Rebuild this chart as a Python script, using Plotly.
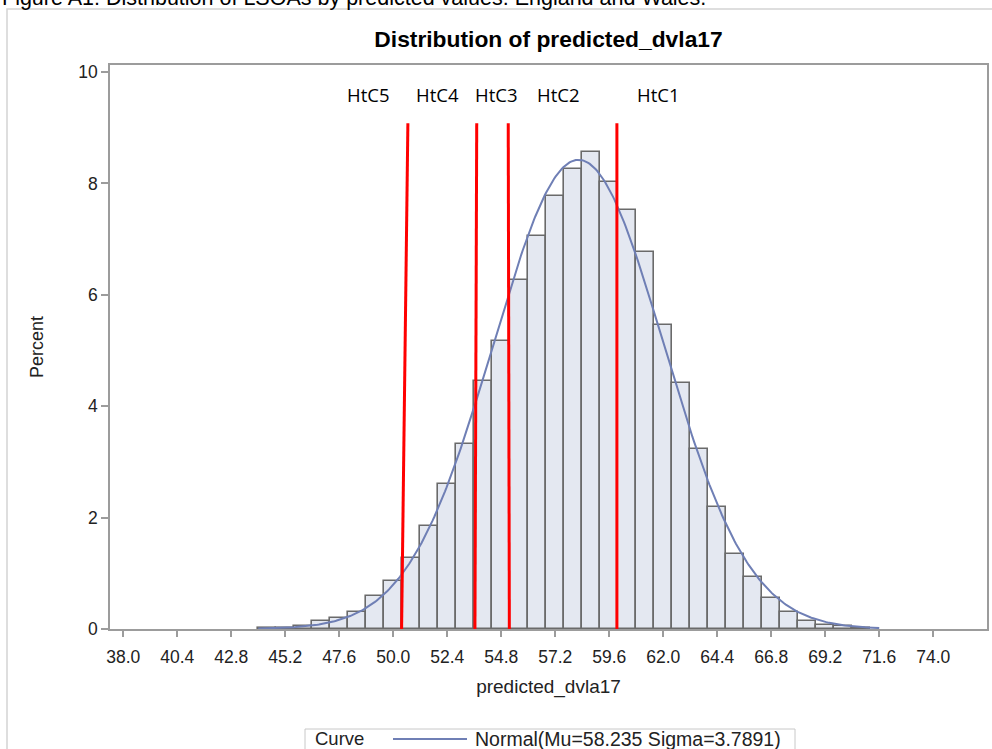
import numpy as np
import plotly.graph_objects as go

# ---------------- data ----------------
bin_centers = [44.4, 45.2, 46.0, 46.8, 47.6, 48.4, 49.2, 50.0, 50.8, 51.6, 52.4, 53.2,
               54.0, 54.8, 55.6, 56.4, 57.2, 58.0, 58.8, 59.6, 60.4, 61.2, 62.0, 62.8,
               63.6, 64.4, 65.2, 66.0, 66.8, 67.6, 68.4, 69.2, 70.0, 70.8]
percent = [0.02, 0.02, 0.06, 0.14, 0.19, 0.31, 0.59, 0.87, 1.27, 1.85, 2.61, 3.32,
           4.46, 5.17, 6.26, 7.05, 7.77, 8.26, 8.56, 8.03, 7.52, 6.77, 5.45, 4.41,
           3.23, 2.19, 1.35, 0.93, 0.56, 0.31, 0.14, 0.08, 0.05, 0.02]
x_tick_vals = [38.0, 40.4, 42.8, 45.2, 47.6, 50.0, 52.4, 54.8, 57.2, 59.6, 62.0,
               64.4, 66.8, 69.2, 71.6, 74.0]
x_tick_text = ["38.0", "40.4", "42.8", "45.2", "47.6", "50.0", "52.4", "54.8", "57.2",
               "59.6", "62.0", "64.4", "66.8", "69.2", "71.6", "74.0"]
y_tick_vals = [0, 2, 4, 6, 8, 10]

# class cut-off lines (bottom and top x of each red line)
cut_bottom_x = [50.37, 53.63, 55.16, 59.94]
cut_top_x = [50.65, 53.71, 55.11, 59.94]
cut_top_y = 9.08
class_labels = ["HtC5", "HtC4", "HtC3", "HtC2", "HtC1"]
class_label_x = [48.88, 51.98, 54.56, 57.34, 61.75]
class_label_y = 9.59

# fitted normal curve parameters
mu = 58.235
sigma = 3.7891
bin_width = 0.8
curve_start, curve_end = 44.0, 71.6

# ---------------- figure ----------------
W, H = 992, 749
ML, MR, MT, MB = 110, 5, 65, 120
PW, PH = W - ML - MR, H - MT - MB


def px_to_paper_x(px):
    return (px - ML) / PW


def px_to_paper_y(py):
    return (H - MB - py) / PH


AXIS_GREY = "#9c9c9c"
CURVE_COLOR = "#6F7FB5"
FONT = "Liberation Sans, Arial, sans-serif"

fig = go.Figure()

fig.add_trace(go.Bar(
    x=bin_centers, y=percent, width=bin_width,
    marker=dict(color="#E4E8F1", line=dict(color="#6a6a6a", width=1.6)),
    showlegend=False, hoverinfo="x+y",
))

xc = np.linspace(curve_start, curve_end, 400)
yc = 100 * bin_width * np.exp(-0.5 * ((xc - mu) / sigma) ** 2) / (sigma * np.sqrt(2 * np.pi))
curve_name = f"Normal(Mu={mu} Sigma={sigma})"
fig.add_trace(go.Scatter(
    x=xc, y=yc, mode="lines",
    line=dict(color=CURVE_COLOR, width=2),
    name=curve_name, showlegend=False,
))

shapes = []
for xb, xt in zip(cut_bottom_x, cut_top_x):
    shapes.append(dict(type="line", xref="x", yref="y", x0=xb, y0=0, x1=xt, y1=cut_top_y,
                       line=dict(color="#FF0000", width=3), layer="above"))
# outer light border around graph
shapes.append(dict(type="rect", xref="paper", yref="paper",
                   x0=px_to_paper_x(7), x1=px_to_paper_x(1010),
                   y0=px_to_paper_y(790), y1=px_to_paper_y(9),
                   line=dict(color="#d4d4d4", width=1.5), fillcolor="rgba(0,0,0,0)",
                   layer="below"))
# legend box (cut by the lower edge, as in the reference) and glyph
LEG_TOP, LEG_BOT, LEG_MID = 729, 760, 739
shapes.append(dict(type="rect", xref="paper", yref="paper",
                   x0=px_to_paper_x(305), x1=px_to_paper_x(795),
                   y0=px_to_paper_y(LEG_BOT), y1=px_to_paper_y(LEG_TOP),
                   line=dict(color="#c8c8c8", width=1), fillcolor="white"))
shapes.append(dict(type="line", xref="paper", yref="paper",
                   x0=px_to_paper_x(393), x1=px_to_paper_x(467),
                   y0=px_to_paper_y(LEG_MID), y1=px_to_paper_y(LEG_MID),
                   line=dict(color=CURVE_COLOR, width=2)))

annotations = []
for lab, lx in zip(class_labels, class_label_x):
    annotations.append(dict(x=lx, y=class_label_y, xref="x", yref="y", text=lab,
                            showarrow=False, font=dict(family="Open Sans, sans-serif", size=18.5,
                                                       color="black")))
annotations.append(dict(x=px_to_paper_x(0), y=px_to_paper_y(-2), xref="paper", yref="paper",
                        xanchor="left", yanchor="middle", showarrow=False,
                        text="Figure A1: Distribution of LSOAs by predicted values: England and Wales.",
                        font=dict(family=FONT, size=21.5, color="black")))
annotations.append(dict(x=px_to_paper_x(313), y=px_to_paper_y(LEG_MID), xref="paper", yref="paper",
                        xanchor="left", yanchor="middle", showarrow=False, text="Curve",
                        font=dict(family=FONT, size=18.5, color="#222")))
annotations.append(dict(x=px_to_paper_x(473), y=px_to_paper_y(LEG_MID), xref="paper", yref="paper",
                        xanchor="left", yanchor="middle", showarrow=False, text=curve_name,
                        font=dict(family=FONT, size=19.5, color="#222")))

fig.update_layout(
    width=W, height=H,
    margin=dict(l=ML, r=MR, t=MT, b=MB, autoexpand=False),
    paper_bgcolor="white", plot_bgcolor="white",
    title=dict(text="<b>Distribution of predicted_dvla17</b>", x=0.5, xref="paper",
               y=1 - 39 / H, yanchor="middle",
               font=dict(family=FONT, size=22.8, color="black")),
    shapes=shapes, annotations=annotations,
    bargap=0, showlegend=False,
    xaxis=dict(range=[37.41, 76.39], tickvals=x_tick_vals, ticktext=x_tick_text,
               showgrid=False, zeroline=False, showline=True, mirror=True,
               linecolor=AXIS_GREY, linewidth=1.5, ticks="outside", ticklen=6,
               tickcolor=AXIS_GREY, tickwidth=1.5, ticklabelstandoff=5,
               tickfont=dict(family=FONT, size=17.5, color="#222"),
               title=dict(text="predicted_dvla17", standoff=14,
                          font=dict(family=FONT, size=19, color="#222"))),
    yaxis=dict(range=[0, (H - MB - MT) / 55.7], tickvals=y_tick_vals,
               showgrid=False, zeroline=False, showline=True, mirror=True,
               linecolor=AXIS_GREY, linewidth=1.5, ticks="outside", ticklen=7,
               tickcolor=AXIS_GREY, tickwidth=1.5,
               tickfont=dict(family=FONT, size=17.5, color="#222"),
               title=dict(text="Percent", standoff=30,
                          font=dict(family=FONT, size=18, color="#222"))),
)

fig.write_html("out.html")
